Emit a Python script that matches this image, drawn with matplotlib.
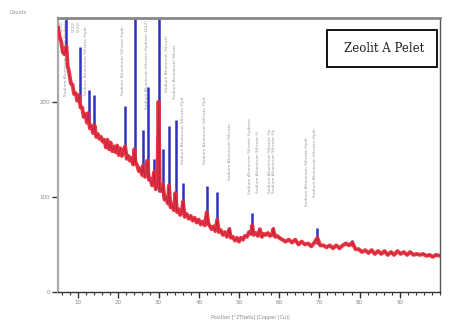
import matplotlib
matplotlib.use("Agg")
import matplotlib.pyplot as plt
from matplotlib.ticker import MultipleLocator
from matplotlib.patches import Rectangle

# ---- measured pattern (red) ----
red_2theta = [5.0, 5.4, 5.8, 6.2, 6.6, 7.1, 7.4, 7.8, 8.2, 8.6, 9.0, 9.4, 9.8, 10.2, 10.6,
              11.0, 11.4, 11.8, 12.2, 12.5, 12.9, 13.3, 13.7, 14.1, 14.5, 14.9, 15.3, 15.7,
              16.1, 16.5, 16.9, 17.3, 17.7, 18.1, 18.5, 18.9, 19.3, 19.7, 20.1, 20.5, 20.9,
              21.3, 21.7, 22.1, 22.5, 22.9, 23.3, 23.7, 24.0, 24.3, 24.7, 25.1, 25.5, 25.9,
              26.2, 26.6, 27.0, 27.2, 27.6, 28.0, 28.4, 28.9, 29.3, 29.7, 30.0, 30.3, 30.7,
              31.1, 31.5, 31.9, 32.3, 32.6, 33.0, 33.4, 33.8, 34.2, 34.6, 35.0, 35.4, 35.8,
              36.1, 36.5, 37.0, 37.5, 38.0, 38.5, 39.0, 39.5, 40.0, 40.5, 41.0, 41.5, 42.0,
              42.4, 42.8, 43.2, 43.7, 44.1, 44.6, 45.0, 45.5, 46.0, 46.5, 47.0, 47.6, 48.0,
              48.5, 49.0, 49.5, 50.0, 50.5, 51.0, 51.5, 52.0, 52.5, 53.0, 53.3, 53.7, 54.2,
              54.7, 55.2, 55.7, 56.2, 56.7, 57.2, 57.7, 58.2, 58.5, 59.0, 59.5, 60.0, 60.8,
              61.6, 62.4, 63.2, 64.0, 64.8, 65.6, 66.4, 67.2, 68.0, 68.8, 69.5, 70.2, 71.0,
              71.8, 72.6, 73.4, 74.2, 75.0, 75.8, 76.6, 77.4, 78.2, 79.0, 79.8, 80.6, 81.4,
              82.2, 83.0, 83.8, 84.6, 85.4, 86.2, 87.0, 87.8, 88.6, 89.4, 90.2, 91.0, 91.8,
              92.6, 93.4, 94.2, 95.0, 95.8, 96.6, 97.4, 98.2, 99.0, 100.0]
red_counts = [278, 268, 263, 252, 250, 258, 238, 230, 219, 218, 208, 209, 201, 207, 194,
              194, 184, 187, 178, 188, 172, 175, 167, 175, 163, 166, 161, 163,
              158, 160, 152, 160, 150, 157, 148, 153, 147, 154, 144, 151, 143,
              149, 153, 140, 143, 138, 141, 134, 150, 136, 133, 127, 130, 123,
              133, 121, 124, 138, 118, 119, 112, 126, 108, 111, 200, 110, 106,
              113, 97, 100, 93, 112, 89, 92, 86, 104, 84, 87, 81, 86,
              95, 79, 82, 77, 80, 75, 78, 73, 76, 71, 74, 70, 84,
              72, 69, 66, 69, 64, 76, 63, 65, 60, 63, 58, 66, 57,
              58, 54, 57, 53, 57, 55, 59, 58, 63, 61, 70, 60, 62,
              59, 66, 58, 61, 60, 62, 59, 60, 66, 58, 59, 57, 55,
              53, 55, 52, 55, 50, 53, 50, 51, 48, 52, 57, 49, 49,
              47, 49, 46, 49, 46, 49, 51, 49, 52, 45, 45, 42, 44,
              41, 44, 40, 43, 40, 43, 39, 42, 39, 43, 40, 42, 39,
              42, 39, 40, 39, 40, 38, 39, 37, 39, 38]

# ---- comparison peaks (blue) ----
blue_pos = [7.0, 10.4, 12.6, 14.0, 21.7, 24.2, 26.2, 27.4, 28.9, 30.1, 31.1, 32.6, 34.4,
            36.1, 42.1, 44.6, 47.6, 53.3, 58.5, 69.5, 78.2]
blue_base = [250, 200, 180, 170, 145, 136, 125, 120, 113, 105, 100, 93, 86,
             82, 70, 65, 60, 62, 60, 50, 48]
blue_top = [300, 257, 212, 207, 195, 300, 170, 216, 140, 300, 150, 174, 181,
            115, 111, 105, 68, 83, 68, 67, 55]

# ---- peak annotations (vertical text) ----
ann_pos = [5.8, 7.0, 9.0, 10.2, 12.0, 21.2, 27.2, 32.1, 34.1, 36.1, 41.6, 47.8,
           52.8, 54.8, 57.8, 58.8, 67.0, 69.0]
ann_top = [286, 286, 286, 286, 281, 281, 286, 270, 260, 207, 207, 178, 183, 170,
           172, 172, 163, 173]
ann_text = ["(200)", "Sodium Aluminum Silicate Hydrate", "(220)", "(222)",
            "Sodium Aluminum Silicate Hydr.", "Sodium Aluminum Silicate Hydr.",
            "Sodium Aluminum Silicate Hydrate (642)", "Sodium Aluminum Silicate",
            "Sodium Aluminum Silicat", "Sodium Aluminum Silicate Hyd.",
            "Sodium Aluminum Silicate Hyd.", "Sodium Aluminum Silicate",
            "Sodium Aluminum Silicate Hydrate", "Sodium Aluminum Silicate H.",
            "Sodium Aluminum Silicate Hy.", "Sodium Aluminum Silicate Hy.",
            "Sodium Aluminum Silicate Hydr", "Sodium Aluminum Silicate Hydr."]

y_ticks = [0, 100, 200]
x_ticks = [10, 20, 30, 40, 50, 60, 70, 80, 90]

fig = plt.figure(figsize=(4.49, 3.22), dpi=100)
ax = fig.add_axes([58 / 449, 30 / 322, 382 / 449, 274 / 322])

ax.vlines(blue_pos, blue_base, blue_top, colors="#3030c0", linewidth=1.8, zorder=2)
ax.plot(red_2theta, red_counts, color="#ec2c34", linewidth=2.8, zorder=3,
        solid_joinstyle="round", alpha=0.95)
ax.plot(red_2theta, red_counts, color="#a01850", linewidth=0.5, zorder=4, alpha=0.7)

for p, t, s in zip(ann_pos, ann_top, ann_text):
    ax.text(p, t, s, rotation=90, va="top", ha="center", fontsize=3.2,
            color="#9a9a9a", zorder=1)

ax.set_xlim(5, 100)
ax.set_ylim(0, 288)
ax.set_yticks(y_ticks)
ax.set_xticks(x_ticks)
ax.xaxis.set_minor_locator(MultipleLocator(2))
ax.tick_params(axis="both", which="major", direction="out", length=4, width=1,
               color="#333333", labelsize=4, labelcolor="#888888", pad=2)
ax.tick_params(axis="x", which="minor", direction="out", length=2, width=0.8,
               color="#333333")

ax.spines["left"].set_color("#aaaaaa")
ax.spines["left"].set_linewidth(1.6)
ax.spines["top"].set_color("#888888")
ax.spines["top"].set_linewidth(2.0)
ax.spines["right"].set_color("#555555")
ax.spines["right"].set_linewidth(1.0)
ax.spines["bottom"].set_color("#333333")
ax.spines["bottom"].set_linewidth(1.0)

fig.text(10 / 449, 1 - 12 / 322, "Counts", fontsize=3.5, color="#888888",
         ha="left", va="center")
fig.text(250 / 449, 1 - 318 / 322, "Position [°2Theta] (Copper (Cu))",
         fontsize=3.5, color="#888888", ha="center", va="center")

fig.patches.append(Rectangle((327 / 449, 1 - 67 / 322), 110 / 449, 37 / 322,
                             transform=fig.transFigure, facecolor="white",
                             edgecolor="black", linewidth=1.3, zorder=5))
fig.text(384 / 449, 1 - 48 / 322, "Zeolit A Pelet", fontsize=8.5,
         family="DejaVu Serif", color="#222222", ha="center", va="center", zorder=6)

fig.savefig("out.png", dpi=100)
